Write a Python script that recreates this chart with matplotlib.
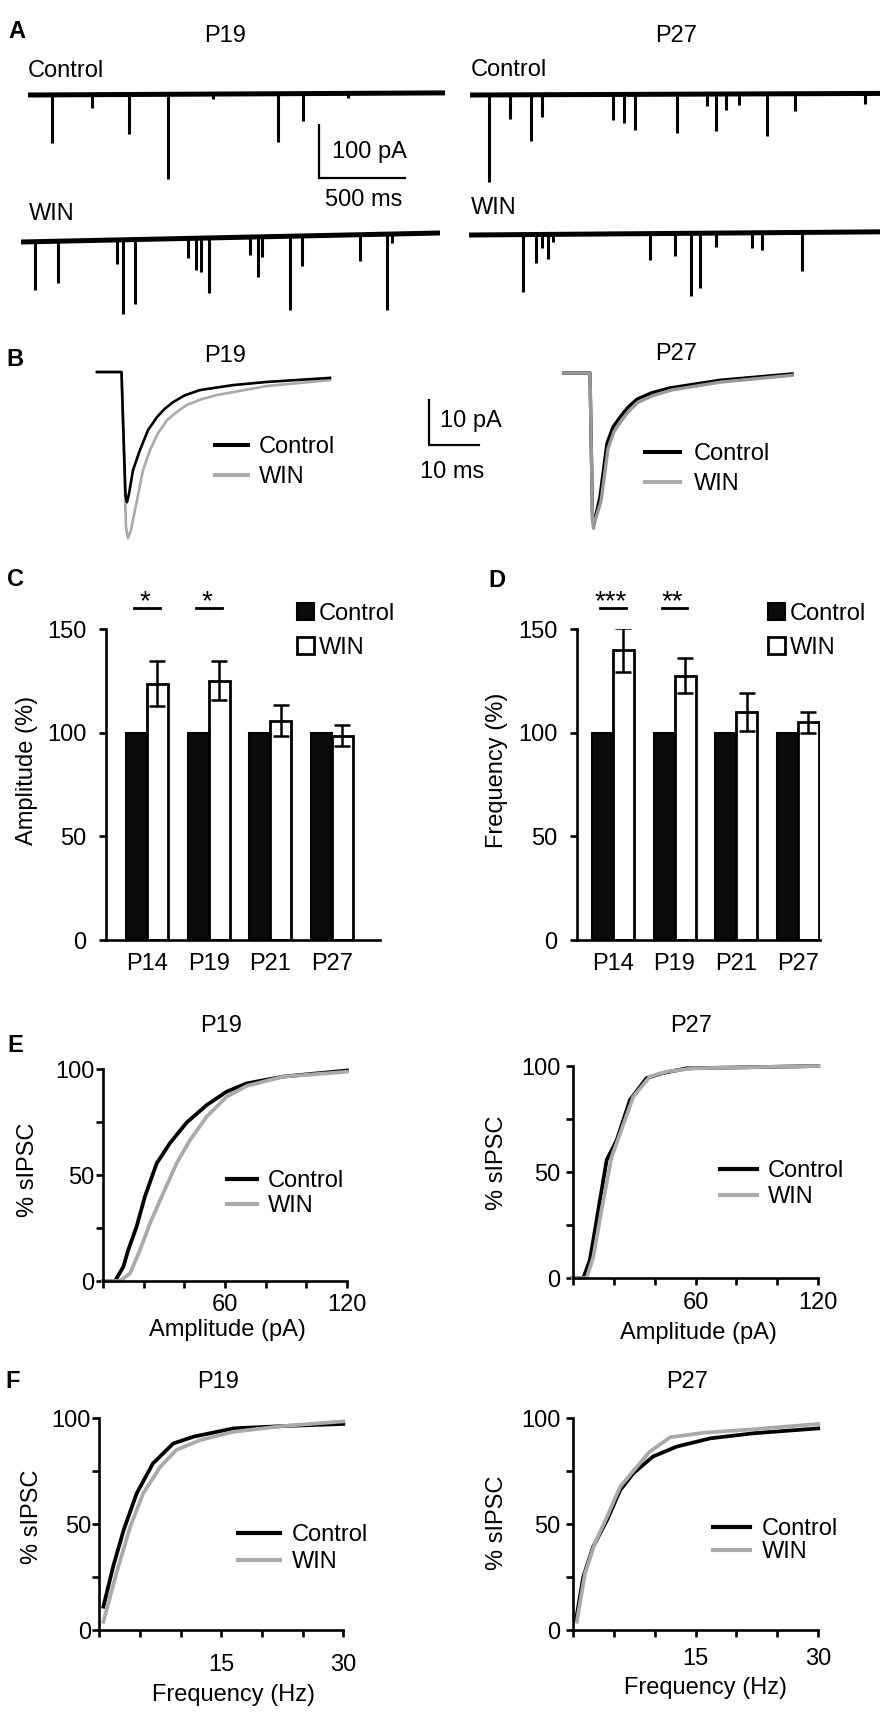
import numpy as np
import matplotlib
matplotlib.use('Agg')
import matplotlib.pyplot as plt
from matplotlib.patches import Patch
from matplotlib.lines import Line2D

plt.rcParams['font.family'] = ['Liberation Sans', 'DejaVu Sans']
FS = 17
EM = FS * 100 / 72.0
GRAY = '#aaaaaa'
BLACKBAR = '#0a0a0a'

# ---------------- DATA ----------------
# Panel A: sIPSC events (time ms, amplitude pA downward)
A_p19_ctrl_base_t = [41, 2465]
A_p19_ctrl_base_v = [0, 4]
A_p19_ctrl_t = [180, 413, 628, 855, 1116, 1494, 1640, 1901]
A_p19_ctrl_amp = [91, 25, 75, 160, 10, 91, 51, 8]

A_p19_win_base_t = [0, 2436]
A_p19_win_base_v = [0, 17]
A_p19_win_t = [81, 215, 558, 593, 663, 971, 1017, 1047, 1093, 1331, 1378, 1401,
               1564, 1634, 1971, 2128, 2157]
A_p19_win_amp = [91, 79, 45, 140, 121, 37, 60, 64, 104, 34, 76, 38, 139, 57, 50, 143, 17]

A_p27_ctrl_base_t = [6, 2390]
A_p27_ctrl_base_v = [0, 3]
A_p27_ctrl_t = [116, 238, 360, 424, 837, 901, 965, 1209, 1384, 1436, 1494, 1570,
                1733, 1895, 2300]
A_p27_ctrl_amp = [164, 45, 87, 42, 49, 53, 68, 74, 23, 70, 30, 21, 79, 32, 20]

A_p27_win_base_t = [0, 2390]
A_p27_win_base_v = [0, 6]
A_p27_win_t = [314, 390, 424, 459, 488, 1052, 1198, 1291, 1343, 1436, 1645, 1703, 1936]
A_p27_win_amp = [108, 53, 25, 47, 15, 49, 43, 119, 104, 26, 28, 32, 72]

# Panel B: averaged sIPSC (time ms, current pA)
B_p19_ctrl_t = [0, 4.9, 5.7, 6.0, 6.4, 7.2, 8.6, 10.2, 12.0, 13.5, 15.2, 17.5, 20.6, 27.2, 34.0, 46.6]
B_p19_ctrl_i = [0, 0, -27.5, -28.9, -27.0, -21.8, -17.3, -12.9, -10.0, -8.2, -6.7, -5.2, -4.0, -2.9, -2.2, -1.3]
B_p19_win_t = [0, 4.9, 5.8, 6.2, 6.8, 7.6, 9.2, 10.6, 12.2, 14.0, 16.0, 18.0, 21.0, 24.0, 34.0, 46.6]
B_p19_win_i = [0, 0, -34.5, -36.9, -35.0, -30.7, -21.8, -17.3, -13.6, -10.7, -8.8, -7.3, -6.0, -5.1, -3.1, -1.8]
B_p27_ctrl_t = [0, 5.2, 5.7, 5.9, 6.3, 7.2, 8.6, 9.8, 11.2, 12.8, 14.6, 17.5, 21.2, 31.2, 45.6]
B_p27_ctrl_i = [0, 0, -32.0, -33.5, -32.0, -27.5, -15.6, -12.0, -9.8, -7.6, -5.8, -4.4, -3.3, -1.6, -0.2]
B_p27_win_t = [0, 5.2, 5.7, 5.9, 6.3, 7.4, 8.8, 10.0, 11.4, 13.0, 14.8, 17.8, 21.4, 31.4, 45.6]
B_p27_win_i = [0, 0, -32.5, -34.5, -32.5, -28.5, -16.8, -13.0, -10.7, -8.4, -6.5, -5.0, -3.8, -2.0, -0.5]

# Panels C, D
ages = ['P14', 'P19', 'P21', 'P27']
amp_ctrl = [100, 100, 100, 100]
amp_win = [123.7, 125.1, 105.8, 98.5]
amp_win_err = [11, 9.5, 7.5, 5]
amp_sig = ['*', '*', '', '']
freq_ctrl = [100, 100, 100, 100]
freq_win = [140, 127.5, 110, 105]
freq_win_err = [10.5, 8.5, 9, 5]
freq_sig = ['***', '**', '', '']

# Panel E: cumulative amplitude
E_p19_ctrl_x = [0, 5.9, 10, 12.4, 16.5, 20.6, 26.4, 32.9, 41.1, 51, 60.8, 70.6, 88.6, 120]
E_p19_ctrl_y = [0, 0, 6.7, 14.6, 25.6, 39.8, 55.5, 65, 74.7, 83, 89.3, 93.2, 96.4, 99.3]
E_p19_win_x = [0, 8.4, 13.3, 18.2, 23.1, 29.6, 36.2, 42.8, 51, 60.8, 70.6, 88.6, 120]
E_p19_win_y = [0, 0, 3.6, 14.6, 27.2, 41.4, 55.5, 66.5, 77.5, 86.9, 92, 96.4, 98.7]
E_p27_ctrl_x = [0, 5.2, 8.4, 11.7, 16.6, 21.5, 28, 36.1, 44.2, 55.6, 120]
E_p27_ctrl_y = [0, 0, 8.5, 27.4, 55.7, 65, 84, 94.3, 96.7, 98.9, 100]
E_p27_win_x = [0, 6.8, 10.1, 14.1, 19.0, 23.1, 29.6, 37.7, 45.9, 58.8, 120]
E_p27_win_y = [0, 0, 10, 32, 57, 68, 85.5, 95, 97.3, 98.9, 100]

# Panel F: cumulative frequency
F_p19_ctrl_x = [0.5, 1.7, 3.0, 4.6, 6.6, 9.1, 11.6, 16.5, 22.6, 30]
F_p19_ctrl_y = [11, 29.9, 47.2, 64.5, 78.6, 88, 91.2, 95.1, 96.2, 97.2]
F_p19_win_x = [0.5, 2.1, 3.8, 5.4, 7.5, 9.5, 12.4, 16.5, 22.6, 30]
F_p19_win_y = [3.9, 26.7, 48.7, 64.5, 77, 85, 89.6, 93.5, 96.2, 98.4]
F_p27_ctrl_x = [0.4, 1.3, 2.5, 4.2, 5.8, 7.4, 9.8, 12.7, 16.8, 22.1, 30]
F_p27_ctrl_y = [4.7, 25.2, 39.3, 51.9, 66, 73.9, 81.8, 86.5, 90.4, 92.8, 95.1]
F_p27_win_x = [0.5, 1.5, 2.7, 4.2, 5.8, 7.4, 9.4, 11.9, 15.9, 22.1, 30]
F_p27_win_y = [3.9, 26.7, 40.9, 53.5, 67.6, 75, 84.1, 90.9, 93, 94.7, 97.2]

# ---------------- FIGURE ----------------
W, H = 892, 1717
fig = plt.figure(figsize=(W / 100, H / 100), dpi=100)


def add_ax(l, t, r, b):
    return fig.add_axes([l / W, 1 - b / H, (r - l) / W, (b - t) / H])


def ftext(x, yc, s, ha='center', bold=False, fs=FS):
    # yc: visual centre of capitals in pixels
    fig.text(x / W, 1 - (yc + 0.36 * fs * 100 / 72) / H, s, ha=ha, va='baseline',
             fontsize=fs, fontweight='bold' if bold else 'normal')


def place_legend(ax, handles, labels, x_px, y1_px, y2_px, hl, htp, hh=0.7):
    ymid = (y1_px + y2_px) / 2 + 2
    ls = 0.3
    leg = None
    for _ in range(2):
        leg = ax.legend(handles, labels, loc='center left',
                        bbox_to_anchor=(x_px / W, 1 - ymid / H),
                        bbox_transform=fig.transFigure, frameon=False, fontsize=FS,
                        handlelength=hl, handletextpad=htp, handleheight=hh,
                        borderpad=0, borderaxespad=0, labelspacing=ls)
        fig.canvas.draw()
        t1, t2 = leg.get_texts()
        e1 = t1.get_window_extent()
        e2 = t2.get_window_extent()
        cur = (e1.y0 + e1.y1) / 2 - (e2.y0 + e2.y1) / 2
        ls = ls + ((y2_px - y1_px) - cur) / EM
    return leg


# ---- Panel A ----
def trace(ax, bt, bv, et, ea, xlim, ylim):
    ax.plot(bt, bv, color='k', lw=3.6, solid_capstyle='butt')
    bl = np.interp(et, bt, bv)
    ax.vlines(et, bl - np.array(ea), bl, color='k', lw=2.2)
    ax.set_xlim(*xlim)
    ax.set_ylim(*ylim)
    ax.axis('off')


axA1 = add_ax(21, 80, 445, 200)
trace(axA1, A_p19_ctrl_base_t, A_p19_ctrl_base_v, A_p19_ctrl_t, A_p19_ctrl_amp, (0, 2465), (-198, 28.3))
axA2 = add_ax(21, 220, 445, 330)
trace(axA2, A_p19_win_base_t, A_p19_win_base_v, A_p19_win_t, A_p19_win_amp, (0, 2465), (-166, 41.5))
axA3 = add_ax(469, 80, 880, 200)
trace(axA3, A_p27_ctrl_base_t, A_p27_ctrl_base_v, A_p27_ctrl_t, A_p27_ctrl_amp, (0, 2390), (-198, 28.3))
axA4 = add_ax(469, 220, 880, 330)
trace(axA4, A_p27_win_base_t, A_p27_win_base_v, A_p27_win_t, A_p27_win_amp, (0, 2390), (-179, 28.3))

# scale bar 100 pA / 500 ms
sb_t, sb_top = 1733, -56.6
axA1.plot([sb_t, sb_t, sb_t + 500], [sb_top, sb_top - 100, sb_top - 100], color='k', lw=1.6,
          clip_on=False, solid_joinstyle='miter')
axA1.text(1808, -118.9, '100 pA', ha='left', va='baseline', fontsize=FS, clip_on=False)
axA1.text(1994, -209.4, '500 ms', ha='center', va='baseline', fontsize=FS, clip_on=False)

ftext(17, 30, 'A', bold=True)
ftext(225, 33, 'P19')
ftext(676, 33, 'P27')
ftext(28, 68.5, 'Control', ha='left')
ftext(29, 211.5, 'WIN', ha='left')
ftext(471, 68, 'Control', ha='left')
ftext(471, 205, 'WIN', ha='left')

# ---- Panel B ----
axB1 = add_ax(90, 360, 340, 545)
axB1.plot(B_p19_win_t, B_p19_win_i, color=GRAY, lw=1.9)
axB1.plot(B_p19_ctrl_t, B_p19_ctrl_i, color='k', lw=1.9)
axB1.set_xlim(-1.4, 48.6)
axB1.set_ylim(-38.4, 2.67)
axB1.axis('off')

axB2 = add_ax(560, 360, 800, 545)
axB2.plot(B_p27_ctrl_t, B_p27_ctrl_i, color='k', lw=2.4)
axB2.plot(B_p27_win_t, B_p27_win_i, color='#999999', lw=2.4)
axB2.set_xlim(-0.8, 47.2)
axB2.set_ylim(-38.2, 2.9)
axB2.axis('off')

# scale bar 10 pA / 10 ms
axB1.plot([66.4, 66.4, 76.4], [-6.2, -16.2, -16.2], color='k', lw=1.6, clip_on=False,
          solid_joinstyle='miter')
axB1.text(68.6, -12.3, '10 pA', ha='left', va='baseline', fontsize=FS, clip_on=False)
axB1.text(71, -23.6, '10 ms', ha='center', va='baseline', fontsize=FS, clip_on=False)

ftext(15, 357, 'B', bold=True)
ftext(225, 353, 'P19')
ftext(676, 352, 'P27')

hB = [Line2D([], [], color='k', lw=2.9), Line2D([], [], color=GRAY, lw=2.9)]
place_legend(axB1, hB, ['Control', 'WIN'], 215, 445, 475, 1.4, 0.47)
place_legend(axB2, hB, ['Control', 'WIN'], 645, 452, 482, 1.5, 0.55)


# ---- Panels C, D ----
def style_axes(ax):
    for s in ['top', 'right']:
        ax.spines[s].set_visible(False)
    for s in ['left', 'bottom']:
        ax.spines[s].set_linewidth(1.9)
    ax.tick_params(direction='out', length=5, width=1.9, labelsize=FS)


def bar_panel(ax, ctrl, win, err, sig, xlim, ylabel):
    x = np.arange(len(ages))
    w = 0.34
    ax.bar(x - w / 2, ctrl, w, color=BLACKBAR, edgecolor='k', lw=1.5)
    ax.bar(x + w / 2, win, w, color='white', edgecolor='k', lw=2.0)
    ax.errorbar(x + w / 2, win, yerr=err, fmt='none', ecolor='k', elinewidth=1.8,
                capsize=5.5, capthick=1.8)
    for xi, s in zip(x, sig):
        if s:
            ax.plot([xi - 0.21, xi + 0.21], [160.3, 160.3], color='k', lw=2.0, clip_on=False)
            ax.text(xi - 0.03, 159.5, s, ha='center', va='baseline', fontsize=FS + 3,
                    clip_on=False)
    ax.set_xlim(*xlim)
    ax.set_ylim(0, 150)
    ax.set_yticks([0, 50, 100, 150])
    ax.set_xticks(x)
    ax.set_xticklabels(ages)
    style_axes(ax)
    ax.tick_params(axis='x', length=0, pad=9)
    ax.tick_params(axis='y', pad=9)
    ax.set_ylabel(ylabel, fontsize=FS, va='center')


axC = add_ax(106, 629, 380, 940)
bar_panel(axC, amp_ctrl, amp_win, amp_win_err, amp_sig, (-0.665, 3.78), 'Amplitude (%)')
axC.yaxis.set_label_coords((27 - 106) / 274, (940 - 770) / 311)
axD = add_ax(577, 629, 820, 940)
bar_panel(axD, freq_ctrl, freq_win, freq_win_err, freq_sig, (-0.583, 3.36), 'Frequency (%)')
axD.yaxis.set_label_coords((497 - 577) / 243, (940 - 770) / 311)

ftext(15, 577, 'C', bold=True)
ftext(497, 578, 'D', bold=True)

hC = [Patch(facecolor=BLACKBAR, edgecolor='k', lw=1.5), Patch(facecolor='white', edgecolor='k', lw=2.0)]
place_legend(axC, hC, ['Control', 'WIN'], 297, 612, 646, 0.7, 0.22, hh=0.72)
place_legend(axD, hC, ['Control', 'WIN'], 768, 612, 646, 0.7, 0.22, hh=0.72)


# ---- Panels E, F ----
def cum_panel(ax, xc, yc, xw, yw, xlim, xticks, xlabels, xlabel, xl_pos, yl_pos, title_xy,
              leg, ypad, xpad):
    ax.plot(xc, yc, color='k', lw=2.7, clip_on=False)
    ax.plot(xw, yw, color=GRAY, lw=2.7, clip_on=False)
    ax.set_xlim(*xlim)
    ax.set_ylim(0, 100)
    ax.set_xticks(xticks)
    ax.set_xticklabels(xlabels)
    ax.set_yticks([0, 25, 50, 75, 100])
    ax.set_yticklabels(['0', '', '50', '', '100'])
    style_axes(ax)
    ax.tick_params(axis='y', pad=ypad)
    ax.tick_params(axis='x', pad=xpad)
    ax.set_ylabel('% sIPSC', fontsize=FS, va='center')
    ax.yaxis.set_label_coords(*yl_pos)
    ax.set_xlabel(xlabel, fontsize=FS, va='center')
    ax.xaxis.set_label_coords(*xl_pos)
    ftext(title_xy[0], title_xy[1], title_xy[2])
    h = [Line2D([], [], color='k', lw=3.0), Line2D([], [], color=GRAY, lw=3.0)]
    place_legend(ax, h, ['Control', 'WIN'], *leg)


E_ticks = [0, 20, 40, 60, 80, 100, 120]
E_labels = ['', '', '', '60', '', '', '120']
F_ticks = [0, 5, 10, 15, 20, 25, 30]
F_labels = ['', '', '', '15', '', '', '30']

axE1 = add_ax(103, 1069, 347, 1281)
cum_panel(axE1, E_p19_ctrl_x, E_p19_ctrl_y, E_p19_win_x, E_p19_win_y, (0, 120), E_ticks, E_labels,
          'Amplitude (pA)', (0.508, -0.231), (-0.307, 0.524), (221, 1023, 'P19'),
          (227, 1179, 1204, 1.27, 0.47), 1, 4)
axE2 = add_ax(572.7, 1066, 818.3, 1278)
cum_panel(axE2, E_p27_ctrl_x, E_p27_ctrl_y, E_p27_win_x, E_p27_win_y, (0, 120), E_ticks, E_labels,
          'Amplitude (pA)', (0.51, -0.259), (-0.308, 0.542), (691, 1023, 'P27'),
          (720, 1169, 1195, 1.57, 0.47), 4, 5)
axF1 = add_ax(99.3, 1418, 343.3, 1630)
cum_panel(axF1, F_p19_ctrl_x, F_p19_ctrl_y, F_p19_win_x, F_p19_win_y, (0, 30), F_ticks, F_labels,
          'Frequency (Hz)', (0.548, -0.307), (-0.276, 0.533), (218, 1380, 'P19'),
          (238, 1533, 1560, 1.78, 0.5), 1, 12)
axF2 = add_ax(572.7, 1418, 818.3, 1630)
cum_panel(axF2, F_p27_ctrl_x, F_p27_ctrl_y, F_p27_win_x, F_p27_win_y, (0, 30), F_ticks, F_labels,
          'Frequency (Hz)', (0.539, -0.274), (-0.308, 0.505), (687, 1380, 'P27'),
          (713, 1527, 1550, 1.57, 0.5), 4, 8)

ftext(15, 1043, 'E', bold=True)
ftext(13, 1380, 'F', bold=True)

fig.savefig('out.png', dpi=100)
